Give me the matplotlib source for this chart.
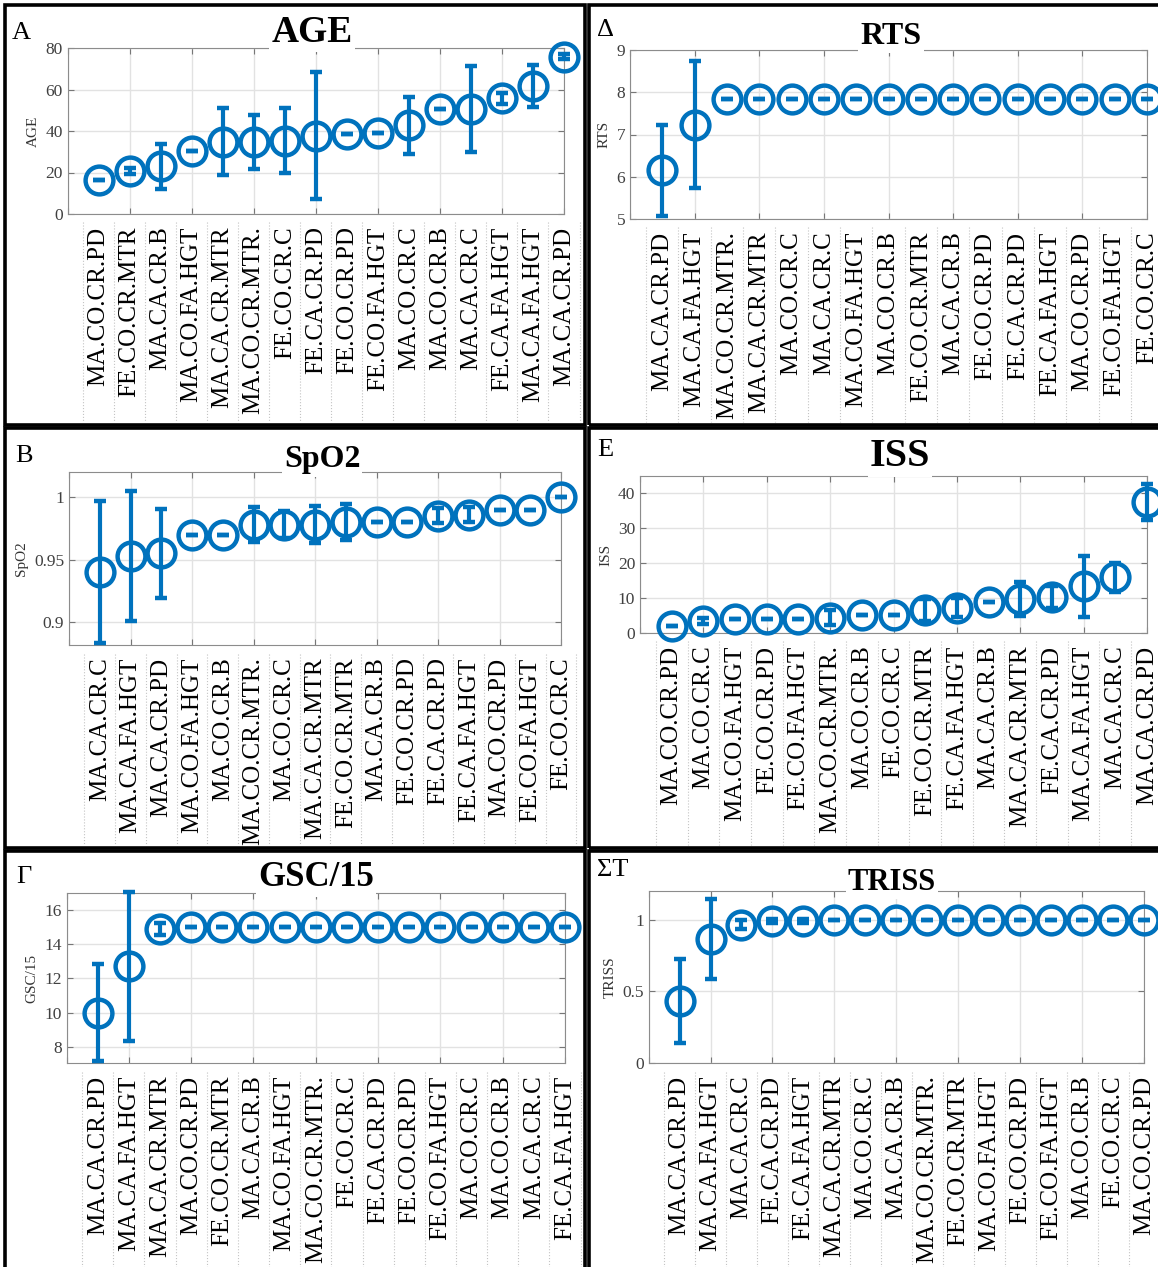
import numpy as np
import matplotlib
matplotlib.use('Agg')
import matplotlib.pyplot as plt
import matplotlib.transforms as mtransforms
from matplotlib.patches import Rectangle
from matplotlib.ticker import FuncFormatter

plt.rcParams['font.family'] = ['Liberation Serif', 'DejaVu Serif']

# ---- data ----
age_labels = ["MA.CO.CR.PD", "FE.CO.CR.MTR", "MA.CA.CR.B", "MA.CO.FA.HGT", "MA.CA.CR.MTR",
              "MA.CO.CR.MTR.", "FE.CO.CR.C", "FE.CA.CR.PD", "FE.CO.CR.PD", "FE.CO.FA.HGT",
              "MA.CO.CR.C", "MA.CO.CR.B", "MA.CA.CR.C", "FE.CA.FA.HGT", "MA.CA.FA.HGT", "MA.CA.CR.PD"]
age_mean = [16.3, 20.8, 22.9, 30.4, 34.8, 34.9, 35.3, 37.7, 38.4, 39.2, 42.7, 50.4, 50.6, 55.7, 61.7, 75.7]
age_err = [0, 1.6, 10.7, 0, 16.1, 13.0, 15.6, 30.5, 0, 0, 13.6, 0, 20.5, 2.7, 10.0, 1.2]

rts_labels = ["MA.CA.CR.PD", "MA.CA.FA.HGT", "MA.CO.CR.MTR.", "MA.CA.CR.MTR", "MA.CO.CR.C",
              "MA.CA.CR.C", "MA.CO.FA.HGT", "MA.CO.CR.B", "FE.CO.CR.MTR", "MA.CA.CR.B",
              "FE.CO.CR.PD", "FE.CA.CR.PD", "FE.CA.FA.HGT", "MA.CO.CR.PD", "FE.CO.FA.HGT", "FE.CO.CR.C"]
rts_mean = [6.15, 7.23, 7.84, 7.84, 7.84, 7.84, 7.84, 7.84, 7.84, 7.84, 7.84, 7.84, 7.84, 7.84, 7.84, 7.84]
rts_err = [1.07, 1.5, 0, 0, 0, 0, 0, 0, 0, 0, 0, 0, 0, 0, 0, 0]

spo2_labels = ["MA.CA.CR.C", "MA.CA.FA.HGT", "MA.CA.CR.PD", "MA.CO.FA.HGT", "MA.CO.CR.B",
               "MA.CO.CR.MTR.", "MA.CO.CR.C", "MA.CA.CR.MTR", "FE.CO.CR.MTR", "MA.CA.CR.B",
               "FE.CO.CR.PD", "FE.CA.CR.PD", "FE.CA.FA.HGT", "MA.CO.CR.PD", "FE.CO.FA.HGT", "FE.CO.CR.C"]
spo2_mean = [0.940, 0.953, 0.955, 0.970, 0.970, 0.978, 0.978, 0.978, 0.980, 0.980,
             0.980, 0.985, 0.986, 0.990, 0.990, 1.000]
spo2_err = [0.0565, 0.0516, 0.0355, 0, 0, 0.014, 0.011, 0.0145, 0.0143, 0, 0, 0.006, 0.006, 0, 0, 0]

iss_labels = ["MA.CO.CR.PD", "MA.CO.CR.C", "MA.CO.FA.HGT", "FE.CO.CR.PD", "FE.CO.FA.HGT",
              "MA.CO.CR.MTR.", "MA.CO.CR.B", "FE.CO.CR.C", "FE.CO.CR.MTR", "FE.CA.FA.HGT",
              "MA.CA.CR.B", "MA.CA.CR.MTR", "FE.CA.CR.PD", "MA.CA.FA.HGT", "MA.CA.CR.C", "MA.CA.CR.PD"]
iss_mean = [2.1, 3.5, 4.1, 4.1, 4.1, 4.4, 5.2, 5.2, 6.6, 7.3, 9.0, 9.8, 10.4, 13.4, 16.0, 37.6]
iss_err = [0, 0.9, 0, 0, 0, 2.1, 0, 0, 3.1, 2.8, 0, 4.9, 3.1, 8.7, 4.2, 5.1]

gsc_labels = ["MA.CA.CR.PD", "MA.CA.FA.HGT", "MA.CA.CR.MTR", "MA.CO.CR.PD", "FE.CO.CR.MTR",
              "MA.CA.CR.B", "MA.CO.FA.HGT", "MA.CO.CR.MTR.", "FE.CO.CR.C", "FE.CA.CR.PD",
              "FE.CO.CR.PD", "FE.CO.FA.HGT", "MA.CO.CR.C", "MA.CO.CR.B", "MA.CA.CR.C", "FE.CA.FA.HGT"]
gsc_mean = [10.0, 12.7, 14.9, 15.0, 15.0, 15.0, 15.0, 15.0, 15.0, 15.0, 15.0, 15.0, 15.0, 15.0, 15.0, 15.0]
gsc_err = [2.84, 4.35, 0.35, 0, 0, 0, 0, 0, 0, 0, 0, 0, 0, 0, 0, 0]

triss_labels = ["MA.CA.CR.PD", "MA.CA.FA.HGT", "MA.CA.CR.C", "FE.CA.CR.PD", "FE.CA.FA.HGT",
                "MA.CA.CR.MTR", "MA.CO.CR.C", "MA.CA.CR.B", "MA.CO.CR.MTR.", "FE.CO.CR.MTR",
                "MA.CO.FA.HGT", "FE.CO.CR.PD", "FE.CO.FA.HGT", "MA.CO.CR.B", "FE.CO.CR.C", "MA.CO.CR.PD"]
triss_mean = [0.43, 0.865, 0.965, 0.99, 0.99, 1.0, 1.0, 1.0, 1.0, 1.0, 1.0, 1.0, 1.0, 1.0, 1.0, 1.0]
triss_err = [0.293, 0.276, 0.03, 0.012, 0.012, 0, 0, 0, 0, 0, 0, 0, 0, 0, 0, 0]

W, H = 1158, 1267
BLUE = '#0072BD'

fig = plt.figure(figsize=(W / 100, H / 100), dpi=100)


def px_rect(x0, y0, x1, y1):
    return [x0 / W, 1 - y1 / H, (x1 - x0) / W, (y1 - y0) / H]


def panel(title, letter, labels, mean, err, ylim, yticks, axbox, box, tpos, tsize, lpos):
    x0, y0, x1, y1 = axbox
    ax = fig.add_axes(px_rect(x0, y0, x1, y1))
    x = np.arange(1, len(mean) + 1)
    eb = ax.errorbar(x, mean, yerr=err, fmt='o', ms=20, mfc='none', mec=BLUE, mew=3.2,
                     color=BLUE, ecolor=BLUE, elinewidth=3, capsize=4, capthick=3.5, zorder=3)
    for a in eb.get_children():
        a.set_clip_on(False)
    ax.set_xlim(0, 16)
    ax.set_ylim(*ylim)
    ax.xaxis.remove_overlapping_locs = False
    ax.set_xticks(np.arange(0, 17, 2))
    ax.set_xticklabels([])
    ax.set_xticks(x, labels, minor=True, rotation=90, fontsize=18)
    ax.tick_params(axis='x', which='minor', length=0, pad=9, labelcolor='black')
    ax.tick_params(which='major', direction='in', length=4, top=True, right=True,
                   color='#777777', labelcolor='#404040', labelsize=12.5)
    ax.set_yticks(yticks)
    ax.yaxis.set_major_formatter(FuncFormatter(lambda v, p: '%g' % v))
    ax.set_axisbelow(True)
    ax.grid(True, which='major', color='#e2e2e2', lw=1)
    for sp in ax.spines.values():
        sp.set_color('#8c8c8c')
    ax.set_ylabel(title, fontsize=11, color='#333333', labelpad=4)

    # dotted separators in the label strip
    trans = mtransforms.blended_transform_factory(ax.transData, ax.transAxes)
    depth = (box[3] - y1) / (y1 - y0)
    for k in np.arange(0.5, 16.6, 1.0):
        ax.plot([k, k], [-0.05, -depth + 0.02], transform=trans, ls=':', color='#c4c4c4',
                lw=0.8, clip_on=False)

    fig.text(tpos[0] / W, 1 - tpos[1] / H, title, ha='center', va='center', fontsize=tsize,
             fontweight='bold', bbox=dict(fc='white', ec='none', pad=1.5), zorder=5)
    fig.text(lpos[0] / W, 1 - lpos[1] / H, letter, ha='left', va='center', fontsize=19)
    bx0, by0, bx1, by1 = box
    fig.add_artist(Rectangle((bx0 / W, 1 - by1 / H), (bx1 - bx0) / W, (by1 - by0) / H,
                             transform=fig.transFigure, fill=False, ec='black', lw=2.6))


panel('AGE', 'A', age_labels, age_mean, age_err, (0, 80), [0, 20, 40, 60, 80],
      (67.5, 48, 564, 214), (5, 5, 585, 425), (312, 32), 27, (12, 33))
panel('RTS', 'Δ', rts_labels, rts_mean, rts_err, (5, 9), [5, 6, 7, 8, 9],
      (630, 50, 1147, 219), (589, 5, 1165, 425), (891, 36), 23, (597, 30))
panel('SpO2', 'B', spo2_labels, spo2_mean, spo2_err, (0.882, 1.02), [0.9, 0.95, 1.0],
      (69, 472, 561, 645), (5, 428, 585, 848), (322, 460), 23, (15, 456))
panel('ISS', 'E', iss_labels, iss_mean, iss_err, (0, 45), [0, 10, 20, 30, 40],
      (640, 476, 1147, 633), (589, 428, 1165, 848), (900, 456), 29, (597, 450))
panel('GSC/15', 'Γ', gsc_labels, gsc_mean, gsc_err, (7.05, 17), [8, 10, 12, 14, 16],
      (66.6, 893, 565, 1063), (5, 851, 585, 1275), (316, 878), 25, (16, 877))
panel('TRISS', 'ΣT', triss_labels, triss_mean, triss_err, (0, 1.2), [0, 0.5, 1],
      (648.6, 891, 1144, 1063), (589, 851, 1165, 1275), (892, 882), 22, (597, 870))

fig.savefig('out.png', dpi=100, facecolor='white')
